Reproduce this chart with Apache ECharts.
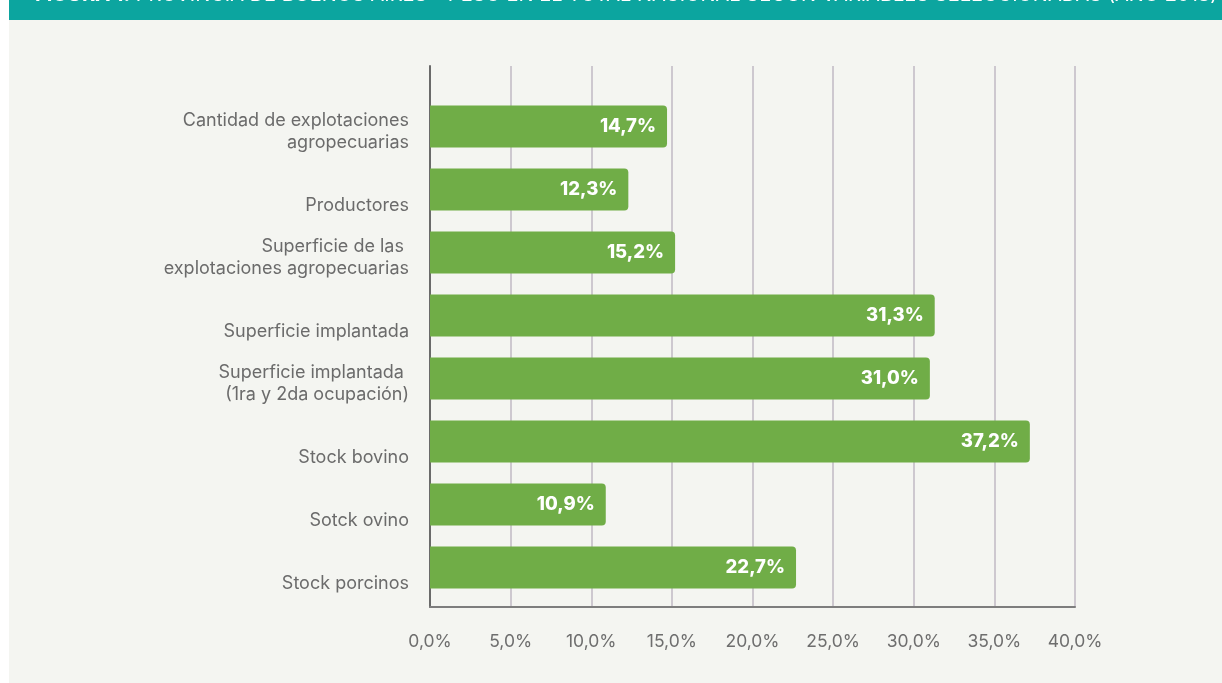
<!DOCTYPE html>
<html>
<head>
<meta charset="utf-8">
<script src="https://cdn.jsdelivr.net/npm/echarts@6/dist/echarts.min.js"></script>
<style>
  html, body { margin: 0; padding: 0; background: #ffffff; }
  #chart { width: 1222px; height: 683px; }
</style>
</head>
<body>
<div id="chart"></div>
<script>
// Categories (top to bottom) and their share of the national total, in percent
const categories = [
  'Cantidad de explotaciones\nagropecuarias',
  'Productores',
  'Superficie de las \nexplotaciones agropecuarias',
  'Superficie implantada',
  'Superficie implantada \n(1ra y 2da ocupación)',
  'Stock bovino',
  'Sotck ovino',
  'Stock porcinos'
];
const shares = [14.7, 12.3, 15.2, 31.3, 31.0, 37.2, 10.9, 22.7];
const tickValues = [0, 5, 10, 15, 20, 25, 30, 35, 40];
const headerBold = 'FIGURA 1.';
const headerText = ' PROVINCIA DE BUENOS AIRES - PESO EN EL TOTAL NACIONAL SEGÚN VARIABLES SELECCIONADAS (AÑO 2018)';

const fmtPct = v => v.toFixed(1).replace('.', ',') + '%';
const FONT = 'Inter, "Noto Sans", sans-serif';

// Category labels sit in a two-line slot; one-line names take the lower line.
function categoryLabel(v) {
  const lines = v.split('\n');
  if (lines.length === 1) lines.unshift(' ');
  return '{s| }\n' + lines.map(l => '{t|' + l + '}').join('\n');
}

const chart = echarts.init(document.getElementById('chart'), null, { renderer: 'canvas' });

chart.setOption({
  backgroundColor: '#ffffff',
  animation: false,
  graphic: [
    { type: 'rect', z: -10, shape: { x: 9, y: 0, width: 1213, height: 683 }, style: { fill: '#f4f5f1' } },
    { type: 'rect', z: -9, shape: { x: 9, y: 0, width: 1213, height: 20 }, style: { fill: '#0ca59f' } },
    {
      type: 'text', z: -8, x: 35, y: 5,
      style: {
        text: '{b|' + headerBold + '}{r|' + headerText + '}',
        verticalAlign: 'bottom',
        rich: {
          b: { fill: '#ffffff', font: 'bold 20px ' + FONT },
          r: { fill: '#ffffff', font: '20px ' + FONT }
        }
      }
    }
  ],
  grid: [
    // frame with vertical gridlines and the percentage scale
    { left: 430, right: 147, top: 66, height: 541, containLabel: false },
    // category band holding the bars
    { left: 430, right: 147, top: 95, height: 504, containLabel: false }
  ],
  xAxis: [
    {
      gridIndex: 0, type: 'value', min: 0, max: 40, interval: 5,
      axisLine: { show: true, lineStyle: { color: '#7d7d7d', width: 2 } },
      axisTick: { show: false },
      splitLine: { show: true, lineStyle: { color: '#c1b8c3', width: 1.5 } },
      axisLabel: {
        margin: 26, color: '#6e6e6e', fontFamily: FONT, fontSize: 17.5,
        formatter: v => tickValues.includes(v) ? fmtPct(v) : ''
      }
    },
    { gridIndex: 1, type: 'value', min: 0, max: 40, show: false }
  ],
  yAxis: [
    {
      gridIndex: 0, type: 'category', data: [''],
      axisLine: { show: true, lineStyle: { color: '#6a6a6a', width: 2 } },
      axisTick: { show: false }, axisLabel: { show: false }, splitLine: { show: false }
    },
    {
      gridIndex: 1, type: 'category', data: categories, inverse: true,
      axisLine: { show: false }, axisTick: { show: false },
      axisLabel: {
        margin: 21, align: 'right',
        formatter: categoryLabel,
        rich: {
          s: { fontSize: 1, lineHeight: 10 },
          t: { color: '#6b6b6b', fontFamily: FONT, fontSize: 18, lineHeight: 22, align: 'right' }
        }
      }
    }
  ],
  series: [{
    type: 'bar',
    xAxisIndex: 1, yAxisIndex: 1,
    data: shares,
    barWidth: 42,
    itemStyle: { color: '#70ad47', borderRadius: [0, 4, 4, 0] },
    label: {
      show: true, position: 'insideRight', offset: [-6, 0],
      color: '#ffffff', fontFamily: FONT, fontWeight: 800, fontSize: 18.5,
      formatter: p => fmtPct(p.value)
    }
  }]
});
</script>
</body>
</html>
